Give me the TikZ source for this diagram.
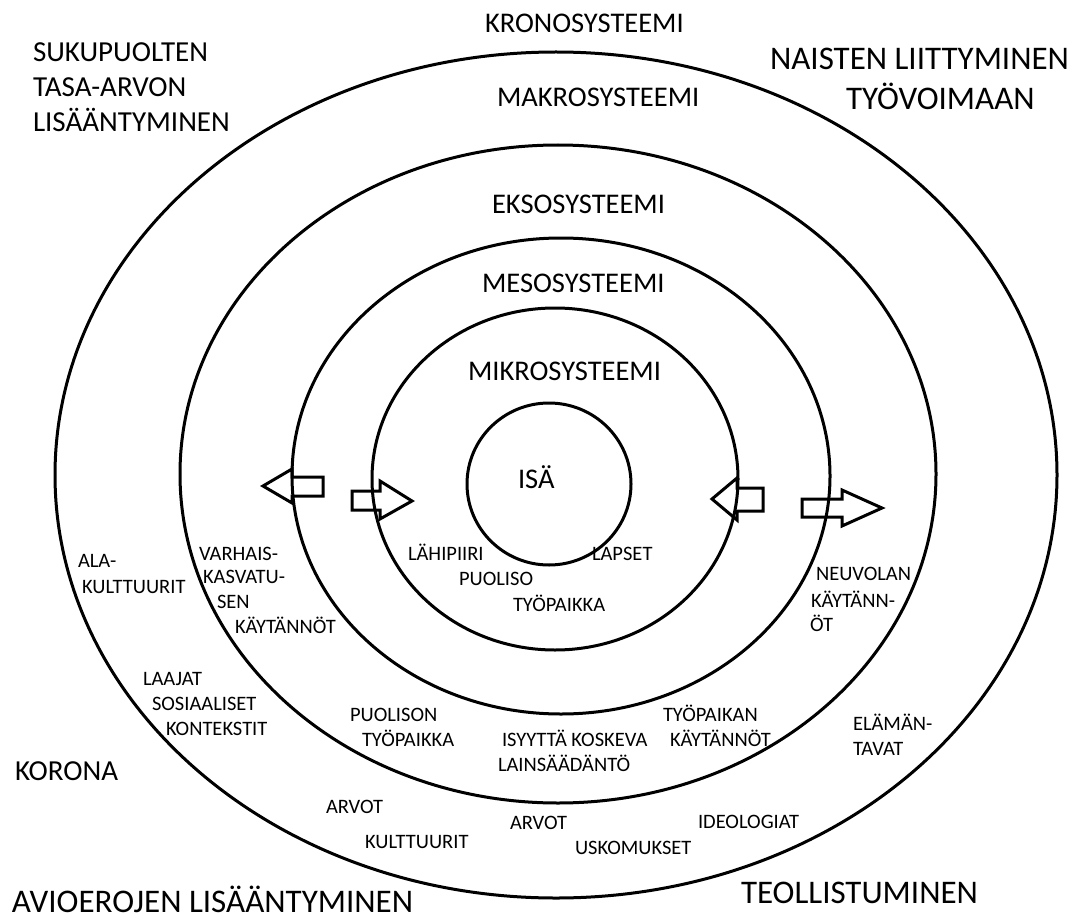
\documentclass[tikz,border=0pt]{standalone}
\usepackage{fontspec}
\setmainfont{Carlito}
\usetikzlibrary{shapes.geometric}
\tikzset{
  ring/.style={draw=black, line width=3pt, ellipse, inner sep=0pt, outer sep=0pt},
  blockarrow/.style={draw=black, line width=3pt, line join=miter},
  lbl/.style={inner sep=0pt, outer sep=0pt, anchor=base west, text=black},
  sm/.style={lbl, font=\fontsize{20.5}{24}\selectfont},
  sys/.style={lbl, font=\fontsize{28.5}{33}\selectfont},
  mid/.style={lbl, font=\fontsize{29}{34}\selectfont},
  big/.style={lbl, font=\fontsize{33}{38}\selectfont},
}
\begin{document}
\begin{tikzpicture}[x=1pt,y=-1pt]
\useasboundingbox (0,0) rectangle (1070,920);
\fill[white] (0,0) rectangle (1070,920);

% rings
\node[ring, minimum width=1002pt, minimum height=846pt] (E1) at (556,475) {};
\node[ring, minimum width=756pt, minimum height=658pt] (E2) at (558,474) {};
\node[ring, minimum width=538pt, minimum height=476pt] (E3) at (561,476) {};
\node[ring, minimum width=366pt, minimum height=342pt] (E4) at (555,479) {};
\node[ring, minimum width=164pt, minimum height=162pt] (C) at (549,484) {};

% block arrows
\draw[blockarrow] (263,486) -- (292,469) -- (292,477) -- (323,477) -- (323,496) -- (292,496) -- (292,503) -- cycle;
\draw[blockarrow] (412,501) -- (380,481) -- (380,491) -- (352,491) -- (352,510) -- (380,510) -- (380,519) -- cycle;
\draw[blockarrow] (712,499) -- (737,478) -- (737,488) -- (763,488) -- (763,511) -- (737,511) -- (737,520) -- cycle;
\draw[blockarrow] (882,508) -- (842,490) -- (842,499) -- (802,499) -- (802,517) -- (842,517) -- (842,526) -- cycle;

% system labels
\node[sys] (kro) at (485,33) {KRONOSYSTEEMI};
\node[sys] (mak) at (497,107) {MAKROSYSTEEMI};
\node[sys] (eks) at (492,213) {EKSOSYSTEEMI};
\node[sys] (mes) at (482,292) {MESOSYSTEEMI};
\node[sys] (mik) at (468,380) {MIKROSYSTEEMI};
\node[sys] (isa) at (518,488) {ISÄ};

% chrono labels
\node[mid] (suk1) at (33,62) {SUKUPUOLTEN};
\node[mid] (suk2) at (33,97) {TASA-ARVON};
\node[mid] (suk3) at (33,132) {LISÄÄNTYMINEN};
\node[big] (nai1) at (770,70) {NAISTEN LIITTYMINEN};
\node[big] (nai2) at (846,110) {TYÖVOIMAAN};
\node[mid] (kor) at (15,780) {KORONA};
\node[big] (teo) at (741,903) {TEOLLISTUMINEN};
\node[big] (avi) at (12,912) {AVIOEROJEN LISÄÄNTYMINEN};

% macro labels
\node[sm] (ala1) at (78,567) {ALA-};
\node[sm] (ala2) at (82,593) {KULTTUURIT};
\node[sm] (laa1) at (143,685) {LAAJAT};
\node[sm] (laa2) at (152,710) {SOSIAALISET};
\node[sm] (laa3) at (166,735) {KONTEKSTIT};
\node[sm] (arv1) at (326,813) {ARVOT};
\node[sm] (kul) at (365,848) {KULTTUURIT};
\node[sm] (arv2) at (510,829) {ARVOT};
\node[sm] (usk) at (575,854) {USKOMUKSET};
\node[sm] (ide) at (698,828) {IDEOLOGIAT};
\node[sm] (ela1) at (853,730) {ELÄMÄN-};
\node[sm] (ela2) at (853,755) {TAVAT};

% exo labels
\node[sm] (var1) at (199,560) {VARHAIS-};
\node[sm] (var2) at (203,583) {KASVATU-};
\node[sm] (var3) at (217,608) {SEN};
\node[sm] (var4) at (235,633) {KÄYTÄNNÖT};
\node[sm] (puo1) at (350,721) {PUOLISON};
\node[sm] (puo2) at (362,746) {TYÖPAIKKA};
\node[sm] (isy1) at (502,746) {ISYYTTÄ KOSKEVA};
\node[sm] (isy2) at (498,771) {LAINSÄÄDÄNTÖ};
\node[sm] (tyo1) at (663,721) {TYÖPAIKAN};
\node[sm] (tyo2) at (670,746) {KÄYTÄNNÖT};
\node[sm] (neu1) at (816,580) {NEUVOLAN};
\node[sm] (neu2) at (811,607) {KÄYTÄNN-};
\node[sm] (neu3) at (810,631) {ÖT};

% micro labels
\node[sm] (lah) at (408,560) {LÄHIPIIRI};
\node[sm] (lap) at (592,560) {LAPSET};
\node[sm] (pso) at (459,585) {PUOLISO};
\node[sm] (tpk) at (513,611) {TYÖPAIKKA};
\end{tikzpicture}
\end{document}
